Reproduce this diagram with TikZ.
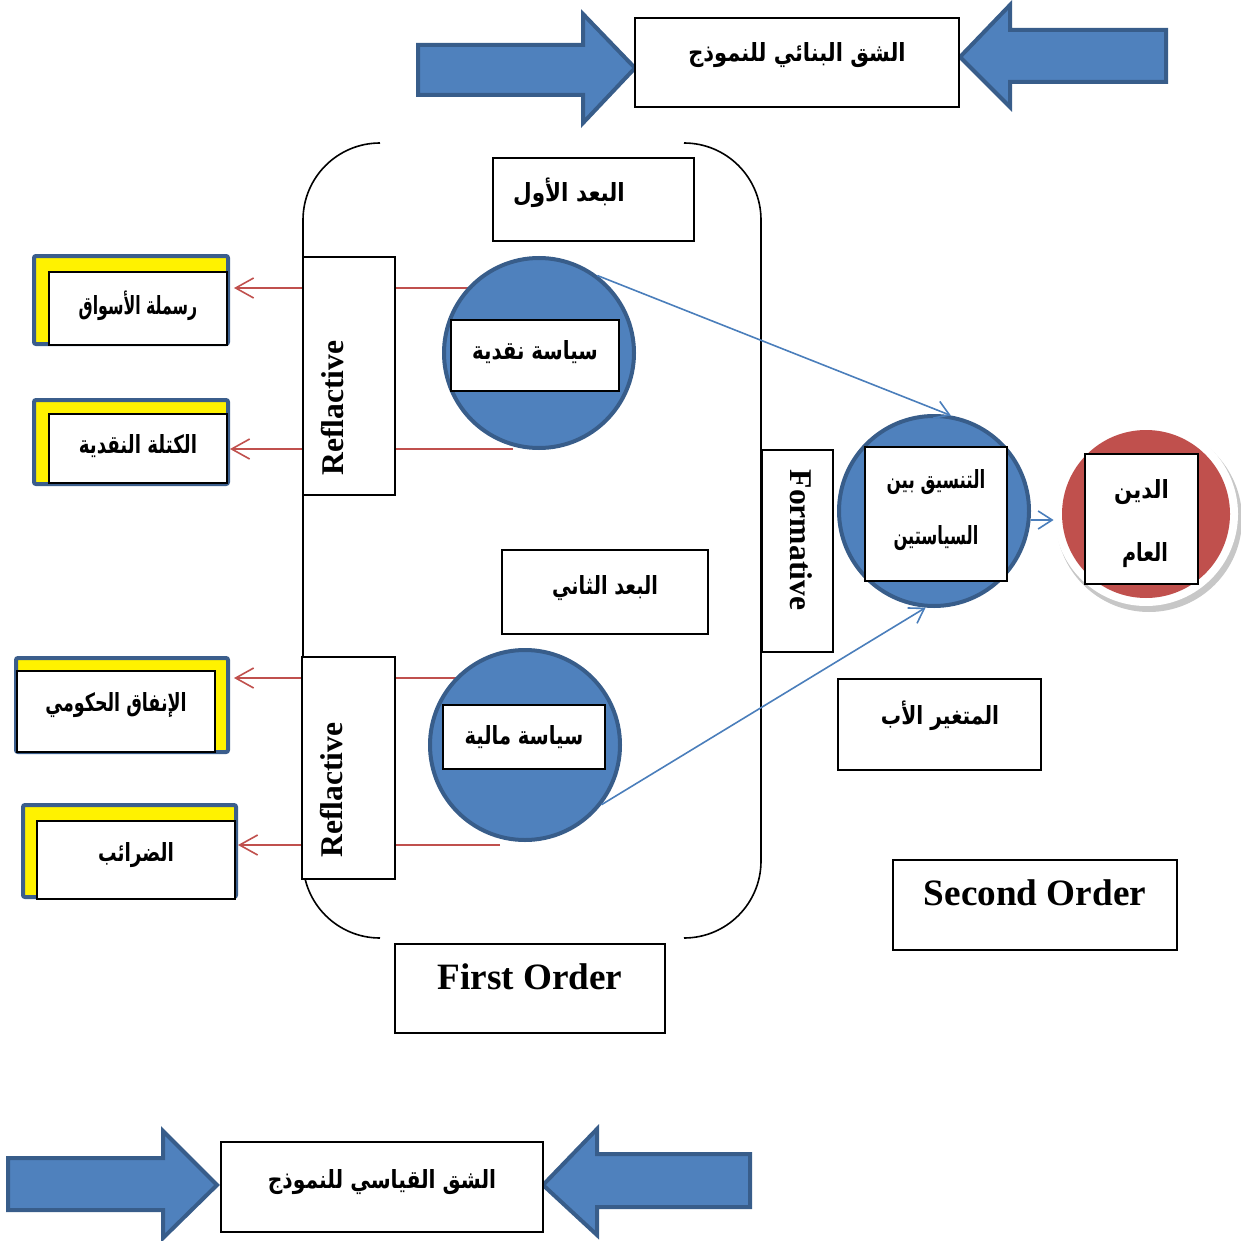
\documentclass[tikz,border=0pt]{standalone}
\usepackage{fontspec}
\usepackage{graphicx}
\setmainfont{Liberation Serif}
\newfontfamily\arabicfont[Script=Arabic]{DejaVu Sans}
\TeXXeTstate=1
\usetikzlibrary{arrows.meta}
\definecolor{bfill}{HTML}{4F81BD}
\definecolor{bdraw}{HTML}{385D8A}
\definecolor{rfill}{HTML}{C0504D}
\definecolor{lineblue}{HTML}{4A7EBB}
\definecolor{ybdraw}{HTML}{3B5E8C}
\newcommand{\artxt}[2][1]{\scalebox{#1}[1]{{\arabicfont\bfseries\beginR #2\endR}}}
\begin{document}
\begin{tikzpicture}[x=0.5pt,y=-0.5pt,
  box/.style={draw=black, line width=0.6pt, fill=white, rectangle, inner sep=0},
  lab/.style={inner sep=0, font=\fontsize{12.5}{14}\selectfont},
  eng/.style={inner sep=0, font=\fontsize{18.6}{22}\selectfont\bfseries},
  vlab/.style={inner sep=0, font=\fontsize{15.8}{18}\selectfont\bfseries},
  bcircle/.style={circle, draw=bdraw, line width=2pt, fill=bfill, inner sep=0},
  barrow/.style={fill=bfill, draw=bdraw, line width=2pt, line join=miter},
  ybox/.style={fill=yellow, draw=ybdraw, line width=2pt, rounded corners=1pt, rectangle, inner sep=0},
  redline/.style={draw=rfill, line width=0.8pt, -{Straight Barb[length=9pt,width=10pt]}},
  blueline/.style={draw=lineblue, line width=0.8pt, -{Straight Barb[length=7pt,width=9pt]}},
  brk/.style={draw=black, line width=0.8pt, rounded corners=38.5pt}
]
\useasboundingbox (0,0) rectangle (1241,1241);

% block arrows
\path[barrow] (418,45) -- (583,45) -- (583,14) -- (635,68) -- (583,123) -- (583,95) -- (418,95) -- cycle;
\path[barrow] (1166,30) -- (1010,30) -- (1010,5) -- (960,57) -- (1010,107) -- (1010,82) -- (1166,82) -- cycle;
\path[barrow] (8,1158) -- (163,1158) -- (163,1131) -- (217,1185) -- (163,1238) -- (163,1210) -- (8,1210) -- cycle;
\path[barrow] (750,1154) -- (597,1154) -- (597,1129) -- (543,1185) -- (597,1235) -- (597,1207) -- (750,1207) -- cycle;

% top and bottom boxes
\node[box, minimum width=162pt, minimum height=44.5pt] (topbox) at (797,62.5) {};
\node[lab] (toplab) at (797,55) {\artxt[0.84]{الشق البنائي للنموذج}};
\node[box, minimum width=161pt, minimum height=45pt] (botbox) at (382,1187) {};
\node[lab] (botlab) at (382,1182) {\artxt[0.81]{الشق القياسي للنموذج}};

% brackets
\draw[brk] (380,143) -- (303,143) -- (303,938) -- (380,938);
\draw[brk] (685,143) -- (761,143) -- (761,938) -- (685,938);

% dimension boxes
\node[box, minimum width=100.5pt, minimum height=41.5pt] (dim1) at (593.5,199.5) {};
\node[lab] (dim1lab) at (569,193) {\artxt[0.86]{البعد الأول}};
\node[box, minimum width=103pt, minimum height=42pt] (dim2) at (605,592) {};
\node[lab] (dim2lab) at (605,588) {\artxt[0.77]{البعد الثاني}};

% yellow boxes
\node[ybox, minimum width=97pt, minimum height=44pt] (yb1) at (131,300) {};
\node[box, minimum width=89pt, minimum height=36.5pt] (y1) at (138,308.5) {};
\node[lab] (y1lab) at (138,306) {\artxt[0.63]{رسملة الأسواق}};
\node[ybox, minimum width=97pt, minimum height=42pt] (yb2) at (131,442) {};
\node[box, minimum width=89pt, minimum height=34.5pt] (y2) at (138,448.5) {};
\node[lab] (y2lab) at (138,446) {\artxt[0.73]{الكتلة النقدية}};
\node[ybox, minimum width=106pt, minimum height=47pt] (yb3) at (122,705) {};
\node[box, minimum width=99pt, minimum height=40.5pt] (y3) at (116,711.5) {};
\node[lab] (y3lab) at (116,705) {\artxt[0.70]{الإنفاق الحكومي}};
\node[ybox, minimum width=106.5pt, minimum height=46pt] (yb4) at (129.5,851) {};
\node[box, minimum width=99pt, minimum height=39pt] (y4) at (136,860) {};
\node[lab] (y4lab) at (136,855) {\artxt[0.74]{الضرائب}};

% red connectors
\coordinate (p1) at (468,288);
\coordinate (p2) at (513,449);
\coordinate (p3) at (458,678);
\coordinate (p4) at (500,845);
\draw[redline, shorten >=2pt] (p1) -- (yb1.east |- p1);
\draw[redline] (p2) -- (yb2.east |- p2);
\draw[redline, shorten >=2pt] (p3) -- (yb3.east |- p3);
\draw[redline] (p4) -- (yb4.east |- p4);

% reflactive / formative boxes
\node[box, minimum width=46pt, minimum height=119pt] (ref1) at (349,376) {};
\node[vlab, rotate=90] (ref1lab) at (333,408) {Reflactive};
\node[box, minimum width=46.5pt, minimum height=111pt] (ref2) at (348.5,768) {};
\node[vlab, rotate=90] (ref2lab) at (332,790) {Reflactive};
\node[box, minimum width=35.5pt, minimum height=101pt] (form) at (797.5,551) {};
\node[vlab, rotate=-90] (formlab) at (801,540) {Formative};

% circles
\node[bcircle, minimum size=95pt] (c1) at (539,353) {};
\node[box, minimum width=84pt, minimum height=35.5pt] (c1box) at (535,355.5) {};
\node[lab] (c1lab) at (535,352) {\artxt[0.79]{سياسة نقدية}};

\node[bcircle, minimum size=95pt] (c2) at (525,745) {};
\node[box, minimum width=81pt, minimum height=32pt] (c2box) at (524,737) {};
\node[lab] (c2lab) at (524,737) {\artxt[0.78]{سياسة مالية}};

\node[bcircle, minimum size=95pt] (c3) at (934,511) {};
\node[box, minimum width=71pt, minimum height=67pt] (c3box) at (936,514) {};
\node[lab] (c3lab1) at (936,482) {\artxt[0.67]{التنسيق بين}};
\node[lab] (c3lab2) at (936,538) {\artxt[0.65]{السياستين}};

\fill[black!22] (1149,519) circle[radius=93];
\node[circle, fill=white, minimum size=92pt, inner sep=0] (c4ring) at (1146,514) {};
\node[circle, fill=rfill, minimum size=84pt, inner sep=0] (c4) at (1146,514) {};
\node[box, minimum width=56.5pt, minimum height=65pt] (c4box) at (1141.5,519) {};
\node[lab] (c4lab1) at (1141.5,492) {\artxt[0.85]{الدين}};
\node[lab] (c4lab2) at (1145,555) {\artxt[0.77]{العام}};

% blue connectors
\draw[blueline] (c1.53) -- (c3.80);
\draw[blueline] (c2.-38) -- (c3.265);
\coordinate (q1) at (1031,520);
\draw[blueline] (q1) -- (c4ring.west |- q1);

% order labels
\node[box, minimum width=101.5pt, minimum height=45.5pt] (father) at (939.5,724.5) {};
\node[lab] (fatherlab) at (940,716) {\artxt[0.81]{المتغير الأب}};
\node[box, minimum width=142pt, minimum height=45pt] (second) at (1035,905) {};
\node[eng] (secondlab) at (1035,893) {Second Order};
\node[box, minimum width=135pt, minimum height=44.5pt] (first) at (530,988.5) {};
\node[eng] (firstlab) at (530,977) {First Order};
\end{tikzpicture}
\end{document}
